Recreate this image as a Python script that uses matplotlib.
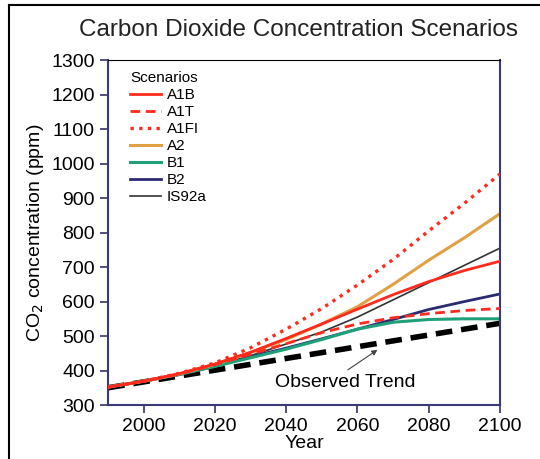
import matplotlib.pyplot as plt
from matplotlib.lines import Line2D

plt.rcParams['font.family'] = ['Liberation Sans', 'DejaVu Sans']

# data (ppm)
years = [1990, 2000, 2010, 2020, 2030, 2040, 2050, 2060, 2070, 2080, 2090, 2100]
a1b = [352, 369, 391, 419, 453, 493, 535, 578, 620, 658, 690, 717]
a1t = [352, 369, 390, 417, 447, 478, 510, 535, 553, 565, 574, 580]
a1fi = [352, 369, 392, 422, 466, 520, 580, 648, 722, 805, 885, 970]
a2 = [352, 369, 390, 418, 452, 490, 535, 585, 650, 720, 785, 855]
b1 = [352, 369, 389, 412, 437, 462, 490, 520, 540, 548, 550, 550]
b2 = [352, 369, 388, 412, 440, 465, 492, 520, 548, 577, 600, 622]
is92a = [352, 369, 389, 414, 443, 477, 512, 555, 605, 655, 705, 755]
observed = [350, 367, 384, 401, 418, 435, 452, 469, 486, 503, 520, 537]

red = '#ff2b1c'
fig = plt.figure(figsize=(5.4, 4.59), dpi=100)
ax = fig.add_axes([0.2, 0.1176, 0.726, 0.7514])

ax.plot(years, observed, color='black', lw=4, ls=(0, (3, 1.6)), zorder=1)
ax.plot(years, is92a, color='#333333', lw=1.2, label='IS92a', zorder=2)
ax.plot(years, b2, color='#2b2b72', lw=2, label='B2', zorder=2)
ax.plot(years, b1, color='#1fa07a', lw=2.2, label='B1', zorder=2)
ax.plot(years, a2, color='#e0a144', lw=2.2, label='A2', zorder=2)
ax.plot(years, a1fi, color=red, lw=2.4, ls=(0, (1, 1.6)), label='A1FI', zorder=3)
ax.plot(years, a1t, color=red, lw=2, ls=(0, (3.5, 2)), label='A1T', zorder=3)
ax.plot(years, a1b, color=red, lw=2, label='A1B', zorder=3)

ax.set_xlim(1990, 2100)
ax.set_ylim(300, 1300)
ax.set_xticks([2000, 2020, 2040, 2060, 2080, 2100])
ax.set_yticks(range(300, 1301, 100))
ax.tick_params(direction='out', length=6, width=1.2, labelsize=14, color='#333366')

for side in ['left', 'bottom', 'right']:
    ax.spines[side].set_color('#3a3a78')
    ax.spines[side].set_linewidth(1.5)
ax.spines['top'].set_color('black')

ax.set_xlabel('Year', fontsize=14, labelpad=0)
ax.set_ylabel('CO$_2$ concentration (ppm)', fontsize=14, labelpad=4)
fig.text(0.553, 0.935, 'Carbon Dioxide Concentration Scenarios', fontsize=17.5,
         ha='center', va='center', color='#222222')

handles, labels = ax.get_legend_handles_labels()
order = ['A1B', 'A1T', 'A1FI', 'A2', 'B1', 'B2', 'IS92a']
hl = dict(zip(labels, handles))
leg = ax.legend([hl[k] for k in order], order, title='Scenarios', loc='upper left',
                frameon=False, fontsize=11, title_fontsize=11, handlelength=2.0,
                handletextpad=0.4, labelspacing=0.2, borderaxespad=0.3,
                alignment='left', bbox_to_anchor=(0.03, 1.0))

ax.text(2056.5, 365, 'Observed Trend', fontsize=14, ha='center', va='center')
ax.annotate('', xy=(2065.6, 460), xytext=(2057.3, 402),
            arrowprops=dict(arrowstyle='-|>', color='#444444', lw=0.8,
                            shrinkA=0, shrinkB=0, mutation_scale=8))

# frame lines of the clipped page
fig.add_artist(Line2D([0.017, 0.017], [0.0, 0.99], color='black', lw=1.5))
fig.add_artist(Line2D([0.017, 1.0], [0.99, 0.99], color='black', lw=1.5))

fig.savefig('out.png', dpi=100)
